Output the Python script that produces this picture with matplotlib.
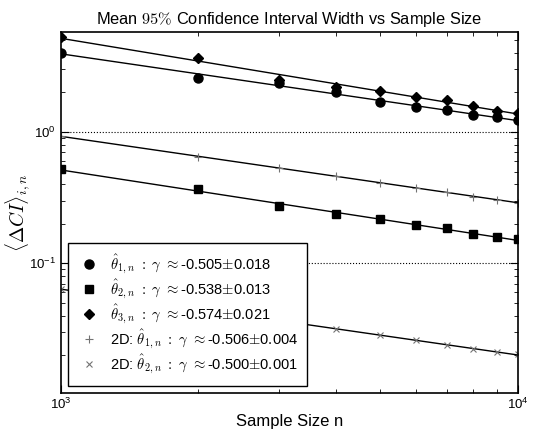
import numpy as np
import matplotlib
matplotlib.use('Agg')
import matplotlib.pyplot as plt

# sample sizes
n = [1000, 2000, 3000, 4000, 5000, 6000, 7000, 8000, 9000, 10000]

# mean CI widths
ci_t1 = [4.02, 2.59, 2.36, 2.03, 1.69, 1.54, 1.46, 1.355, 1.31, 1.23]
ci_t2 = [0.52, 0.366, 0.273, 0.236, 0.216, 0.196, 0.185, 0.167, 0.1595, 0.152]
ci_t3 = [5.32, 3.64, 2.49, 2.21, 2.05, 1.86, 1.75, 1.57, 1.45, 1.40]
ci_2d_t1 = [0.932, 0.641, 0.535, 0.462, 0.411, 0.376, 0.351, 0.321, 0.303, 0.289]
ci_2d_t2 = [0.0637, 0.045, 0.0367, 0.0314, 0.0283, 0.0259, 0.0238, 0.0222, 0.0212, 0.0203]

labels = [r'$\hat{\theta}_{1,n}\ :\ \gamma\ \approx$-0.505$\pm$0.018',
          r'$\hat{\theta}_{2,n}\ :\ \gamma\ \approx$-0.538$\pm$0.013',
          r'$\hat{\theta}_{3,n}\ :\ \gamma\ \approx$-0.574$\pm$0.021',
          r'2D: $\hat{\theta}_{1,n}\ :\ \gamma\ \approx$-0.506$\pm$0.004',
          r'2D: $\hat{\theta}_{2,n}\ :\ \gamma\ \approx$-0.500$\pm$0.001']

plt.rcParams['font.family'] = ['Liberation Sans', 'DejaVu Sans']
plt.rcParams['mathtext.fontset'] = 'cm'
plt.rcParams['xtick.direction'] = 'in'
plt.rcParams['ytick.direction'] = 'in'
plt.rcParams['xtick.top'] = True
plt.rcParams['ytick.right'] = True

fig = plt.figure(figsize=(5.34, 4.32), dpi=100)
ax = fig.add_axes([0.114, 0.0903, 0.8555, 0.8357])

def fitline(x, y):
    # power law fit in log space
    p = np.polyfit(np.log10(x), np.log10(y), 1)
    return 10 ** np.polyval(p, np.log10(x))

series = [(ci_t1, 'o', 6.5, 'k'), (ci_t2, 's', 6, 'k'), (ci_t3, 'D', 5, 'k'),
          (ci_2d_t1, '+', 6, '0.45'), (ci_2d_t2, 'x', 5, '0.45')]
for (y, m, ms, c), lab in zip(series, labels):
    ax.plot(n, fitline(n, y), '-', color='k', lw=1.0)
    if m in '+x':
        ax.plot(n, y, m, color=c, ms=ms, mew=0.8, ls='none', label=lab)
    else:
        ax.plot(n, y, m, color=c, ms=ms, ls='none', label=lab)

ax.set_xscale('log')
ax.set_yscale('log')
ax.set_xlim(1000, 10000)
ax.set_ylim(0.01028, 5.78)
ax.grid(True, which='major', axis='y', color='k', ls=':', lw=0.8)
for s in ax.spines.values():
    s.set_linewidth(1.2)
ax.tick_params(which='major', length=6, labelsize=9.5)
ax.tick_params(which='minor', length=3)
ax.tick_params(axis='x', which='major', pad=3)

ax.set_title(r'Mean $95\%$ Confidence Interval Width vs Sample Size', fontsize=11.8)
ax.set_xlabel('Sample Size n', fontsize=12, labelpad=1)
ax.set_ylabel(r'$\langle \Delta CI \rangle_{i,n}$', fontsize=14)
ax.yaxis.set_label_coords(-0.06, 0.5)

leg = ax.legend(loc='lower left', numpoints=1, fontsize=10.5, fancybox=False,
                framealpha=1, edgecolor='k', borderaxespad=0.5,
                handletextpad=0.6, handlelength=1.6, labelspacing=0.12,
                borderpad=0.65)
leg.get_frame().set_linewidth(1.0)

fig.savefig('out.png', dpi=100)
